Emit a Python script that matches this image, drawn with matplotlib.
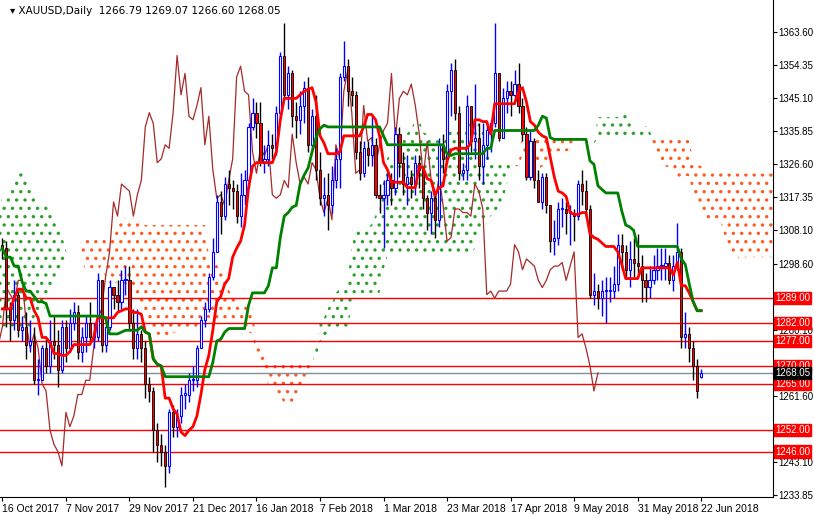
import numpy as np
import pandas as pd
import matplotlib
matplotlib.use("Agg")
import matplotlib.pyplot as plt
from matplotlib.patches import Rectangle

plt.rcParams["font.family"] = ["Liberation Sans", "DejaVu Sans"]
plt.rcParams["hatch.linewidth"] = 1.2

# ---- pre-history (for Ichimoku only), 26 Jun - 13 Oct 2017 ----
hist_close = [1246,1246,1249,1245,1242,
 1219,1225,1227,1224,1212,1213,1219,1219,1218,1228,1233,1241,1242,1245,1254,1255,1250,1261,1260,1269,1268,
 1270,1267,1268,1258,1258,1262,1276,1286,1289,1282,1269,1282,1288,1284,1292,1284,1289,1287,1291,1311,1309,1309,1322,
 1325,1339,1339,1334,1349,1346,1328,1334,1323,1328,1320,1309,1311,1302,1294,1297,1311,1294,1286,1287,1280,
 1271,1274,1276,1269,1274,1285,1293,1288,1294,1304]
hist_high = [1256,1252,1254,1252,1248,
 1243,1228,1230,1230,1226,1216,1222,1222,1221,1230,1236,1243,1245,1247,1256,1259,1256,1263,1264,1271,1271,
 1274,1272,1272,1270,1263,1267,1279,1289,1292,1290,1283,1284,1291,1300,1294,1293,1292,1291,1293,1315,1326,1312,1323,
 1328,1340,1341,1340,1352,1357,1340,1335,1335,1330,1330,1321,1313,1316,1297,1300,1314,1313,1296,1291,1288,
 1281,1276,1279,1280,1276,1286,1295,1294,1296,1305]
hist_low = [1240,1241,1244,1241,1238,
 1218,1217,1220,1220,1208,1205,1210,1214,1213,1217,1226,1231,1237,1238,1243,1250,1245,1248,1255,1258,1264,
 1264,1264,1263,1255,1254,1256,1260,1275,1282,1280,1266,1268,1278,1282,1283,1283,1283,1283,1285,1290,1305,1305,1307,
 1318,1325,1331,1330,1334,1342,1324,1323,1322,1322,1318,1306,1306,1298,1289,1288,1297,1292,1283,1279,1277,
 1268,1270,1270,1268,1266,1272,1283,1285,1286,1292]

# ---- visible data, 16 Oct 2017 - 22 Jun 2018 ----
close = [1303,1286,1283,1290,1280,1281,1276,1277,1266,1266,1275,1270,
 1277,1276,1269,1281,1275,1282,1285,1274,1278,1282,1278,1278,1294,1276,1281,1292,1290,1288,1294,1294,1282,1275,
 1279,1275,1265,1263,1252,1248,1246,1242,1257,1253,1256,1262,1262,1266,1266,1275,1283,1286,1295,1302,
 1316,1312,1321,1320,1319,1312,1318,1322,1337,1341,1338,1327,1328,1332,1331,1341,1357,1346,1352,1340,1339,1343,
 1348,1332,1340,1325,1317,1318,1315,1322,1328,1351,1354,1347,1346,1330,1324,1331,1329,1332,1318,1317,
 1318,1322,1320,1335,1327,1321,1323,1321,1327,1325,1317,1313,1317,1311,1332,1328,1347,1353,1341,1324,1325,
 1343,1333,1334,1326,1332,1336,1338,1352,1334,1345,1347,1346,1349,1343,1335,1323,1333,1322,1316,1323,1315,
 1305,1306,1314,1314,1313,1313,1312,1321,1319,1314,1290,1291,1289,1291,1291,1291,1293,1304,1302,1297,1300,1299,1298,
 1294,1292,1294,1297,1298,1298,1299,1294,1298,1302,1278,1279,1275,1270,1263,1268.05]
high = [1306,1305,1288,1294,1291,1284,1285,1283,1281,1272,1276,1278,
 1283,1284,1280,1283,1283,1286,1288,1287,1281,1284,1288,1282,1296,1294,1283,1294,1292,1294,1297,1298,1298,1286,
 1286,1280,1277,1267,1264,1254,1251,1248,1258,1259,1258,1264,1265,1268,1270,1276,1284,1288,1296,1306,
 1318,1319,1323,1325,1322,1321,1324,1325,1338,1345,1344,1344,1332,1336,1335,1343,1358,1366,1354,1353,1344,1347,
 1350,1351,1342,1346,1330,1323,1324,1326,1331,1352,1361,1356,1351,1347,1333,1333,1333,1340,1334,1321,
 1322,1324,1324,1337,1337,1330,1329,1325,1329,1329,1326,1318,1319,1318,1334,1335,1349,1355,1356,1343,1327,
 1346,1343,1349,1338,1338,1338,1339,1366,1352,1348,1350,1350,1353,1355,1345,1337,1336,1334,1325,1324,1324,
 1315,1311,1316,1317,1316,1315,1314,1322,1325,1322,1315,1296,1293,1294,1295,1295,1298,1307,1307,1304,1305,1306,1307,
 1301,1296,1298,1301,1303,1303,1303,1301,1301,1310,1303,1285,1281,1277,1272,1269.07]
low = [1300,1281,1277,1280,1278,1277,1272,1274,1265,1262,1266,1268,
 1268,1272,1264,1268,1271,1274,1280,1272,1271,1274,1277,1275,1277,1274,1274,1280,1286,1285,1286,1290,1280,1272,
 1272,1271,1261,1260,1246,1243,1242,1236,1240,1250,1250,1254,1258,1260,1263,1264,1276,1281,1285,1294,
 1302,1307,1311,1315,1314,1310,1309,1315,1320,1336,1334,1326,1324,1326,1328,1329,1340,1345,1342,1337,1334,1335,
 1338,1330,1330,1322,1315,1312,1308,1313,1320,1320,1350,1343,1343,1328,1322,1323,1326,1326,1317,1313,
 1303,1315,1315,1318,1323,1318,1315,1317,1318,1320,1314,1308,1307,1306,1309,1324,1327,1340,1339,1322,1322,
 1322,1330,1328,1322,1321,1328,1330,1337,1333,1334,1341,1340,1344,1341,1333,1322,1322,1320,1316,1314,1313,
 1302,1301,1304,1309,1307,1304,1305,1311,1315,1312,1289,1287,1286,1284,1282,1288,1289,1291,1297,1295,1292,1295,1296,
 1288,1288,1289,1293,1294,1294,1294,1293,1291,1297,1275,1275,1271,1266,1261,1266.60]

level_lines = [1289.00, 1282.00, 1277.00, 1270.00, 1265.00, 1252.00, 1246.00]
axis_ticks = [1363.60, 1354.35, 1345.10, 1335.85, 1326.60, 1317.35, 1308.10, 1298.60, 1280.10, 1261.60, 1243.10, 1233.85]
current_price = 1268.05
date_labels = ["16 Oct 2017", "7 Nov 2017", "29 Nov 2017", "21 Dec 2017", "16 Jan 2018", "7 Feb 2018",
               "1 Mar 2018", "23 Mar 2018", "17 Apr 2018", "9 May 2018", "31 May 2018", "22 Jun 2018"]

bd = pd.bdate_range("2017-10-16", "2018-06-22")
bd = bd.drop([pd.Timestamp("2017-12-25"), pd.Timestamp("2018-01-01"), pd.Timestamp("2018-03-30")])
dates = list(bd)
n = len(close)
opens = [hist_close[-1]] + close[:-1]
opens[-1] = 1266.79

H = np.array(hist_high + high, float)
L = np.array(hist_low + low, float)
off = len(hist_close)

def mid(p):
    s = pd.Series(H).rolling(p).max() + pd.Series(L).rolling(p).min()
    return (s / 2).values

tenkan = mid(9)
kijun = mid(26)
spanA = (tenkan + kijun) / 2
spanB = mid(52)
N = len(H)
xa = np.arange(N) - off
xs = xa + 26

fig = plt.figure(figsize=(8.14, 5.14), dpi=100)
ax = fig.add_axes([0, 17/514, 773/814, 497/514])
ax.set_ylim(1233.85 - 2/3.568, 1363.6 + 32/3.568)
ax.set_xlim(-0.6, (773 - 2) / 3.96 - 0.6)

mask = ~np.isnan(spanA) & ~np.isnan(spanB)
ax.fill_between(xs, spanA, spanB, where=mask & (spanA >= spanB), interpolate=True,
                facecolor="none", edgecolor="#2ca02c", hatch="..", linewidth=0)
ax.fill_between(xs, spanA, spanB, where=mask & (spanA < spanB), interpolate=True,
                facecolor="none", edgecolor="#ff5a1f", hatch="..", linewidth=0)

for lv in level_lines:
    ax.axhline(lv, color="red", lw=1)
ax.axhline(current_price, color="#8090a0", lw=1)

ax.plot(np.arange(n) - 26, close, color="#a52a2a", lw=0.9)

w = 0.55
for i in range(n):
    o, h, l, c = opens[i], high[i], low[i], close[i]
    if c >= o:
        ax.vlines(i, l, h, color="blue", lw=1, zorder=3)
        ax.add_patch(Rectangle((i - w/2, o), w, max(c - o, 0.3), facecolor="white",
                               edgecolor="blue", lw=0.8, zorder=4))
    else:
        ax.vlines(i, l, h, color="black", lw=1, zorder=3)
        ax.add_patch(Rectangle((i - w/2, c), w, o - c, facecolor="red",
                               edgecolor="black", lw=0.6, zorder=4))

vis = xa >= 0
ax.plot(xa[vis], tenkan[vis], color="red", lw=2, zorder=5)
ax.plot(xa[vis], kijun[vis], color="green", lw=2, zorder=5)

ax.yaxis.tick_right()
ax.set_yticks(axis_ticks)
ax.set_yticklabels([f"{v:.2f}" for v in axis_ticks], fontsize=7)
ax.tick_params(axis="y", length=3, pad=1)
tick_idx = [dates.index(pd.Timestamp(d)) for d in date_labels]
ax.set_xticks(tick_idx)
ax.set_xticklabels(date_labels, fontsize=7.5, ha="left")
ax.tick_params(axis="x", length=3, pad=2)
for s in ["top", "left"]:
    ax.spines[s].set_visible(False)

for lv in level_lines:
    ax.annotate(f"{lv:.2f}", xy=(1, lv), xycoords=("axes fraction", "data"),
                xytext=(1.5, 0), textcoords="offset points", va="center", ha="left",
                fontsize=7, color="white", annotation_clip=False,
                bbox=dict(boxstyle="square,pad=0.12", fc="red", ec="red"))
ax.annotate(f"{current_price:.2f}", xy=(1, current_price), xycoords=("axes fraction", "data"),
            xytext=(1.5, 0), textcoords="offset points", va="center", ha="left",
            fontsize=7, color="white", annotation_clip=False,
            bbox=dict(boxstyle="square,pad=0.12", fc="black", ec="black"))

fig.text(0.012, 0.988, "\u25be XAUUSD,Daily  1266.79 1269.07 1266.60 1268.05", fontsize=7.5,
         va="top", ha="left", family=["DejaVu Sans"])
fig.savefig("out.png", dpi=100)
